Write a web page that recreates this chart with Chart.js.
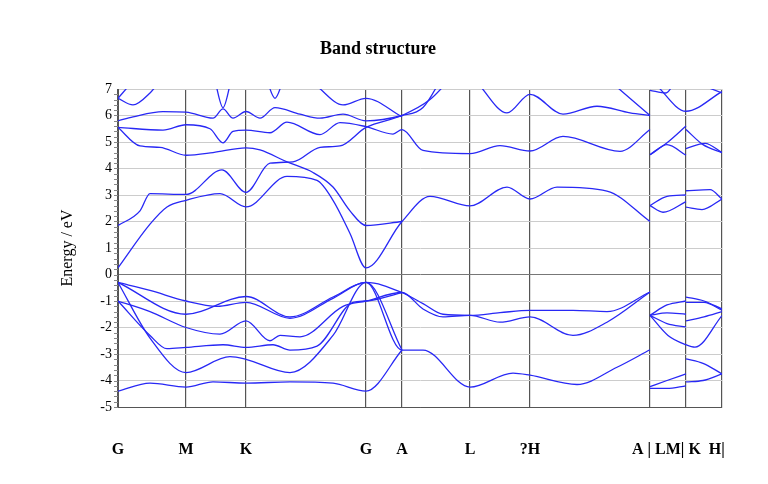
<!DOCTYPE html>
<html>
<head>
<meta charset="utf-8">
<script src="https://cdn.jsdelivr.net/npm/chart.js@4"></script>
<style>
  body { margin: 0; background: #fff; }
</style>
</head>
<body>
<canvas id="bands" width="768" height="484"></canvas>
<script>
// k-path positions of the high symmetry points
const kPoints = [0, 68, 128, 248, 284, 352, 412, 532, 568, 604];
const kLabels = ["G", "M", "K", "G", "A", "L", "?H"];
const kLabelPos = [0, 68, 128, 248, 284, 352, 412];
const tailLabel = "A | LM| K  H|";

// bands as [k, energy] pairs
const v1 = [[0,-0.3],[32,-0.6],[68,-1.0],[99,-1.2],[128,-1.05],[172,-1.65],[215,-0.9],[248,-0.3],[284,-0.68],[305,-1.1],[325,-1.5],[352,-1.54],[382,-1.44],[412,-1.35],[455,-1.35],[489,-1.4],[532,-0.66]];
const v2 = [[0,-0.3],[68,-1.5],[128,-0.83],[172,-1.6],[215,-0.85],[248,-0.3],[284,-2.85],[305,-2.85],[352,-4.25],[395,-3.72],[412,-3.8],[459,-4.15],[499,-3.5],[532,-2.84]];
const v3 = [[0,-1.0],[32,-1.4],[68,-2.0],[102,-2.25],[128,-1.75],[152,-2.5],[162,-2.3],[182,-2.35],[225,-1.2],[248,-1.0],[284,-0.68],[305,-1.3],[325,-1.6],[352,-1.54],[382,-1.8],[412,-1.6],[455,-2.3],[489,-1.8],[532,-0.66]];
const v4 = [[0,-1.0],[32,-2.3],[49,-2.8],[68,-2.75],[105,-2.65],[128,-2.75],[155,-2.65],[172,-2.85],[199,-2.7],[235,-1.05],[248,-1.0],[284,-0.68]];
const v5 = [[0,-0.3],[32,-2.4],[68,-3.7],[112,-3.1],[128,-3.2],[172,-3.7],[215,-2.3],[248,-0.3],[284,-2.85]];
const v6 = [[0,-4.4],[32,-4.1],[68,-4.25],[95,-4.05],[128,-4.1],[172,-4.05],[215,-4.1],[248,-4.4],[284,-2.85]];

const c1 = [[0,0.25],[32,1.9],[49,2.55],[68,2.8],[102,3.05],[128,2.55],[169,3.7],[199,3.55],[215,2.8],[232,1.55],[248,0.25],[284,2.0],[312,2.95],[352,2.59],[389,3.3],[412,2.85],[439,3.3],[489,3.15],[532,2.0]];
const c2 = [[0,1.85],[22,2.4],[32,3.05],[68,3.02],[104,3.95],[128,3.1],[152,4.2],[175,4.25],[202,4.8],[222,4.85],[248,5.55],[284,6.0],[312,6.6],[335,7.5]];
const c3 = [[0,5.55],[22,4.85],[42,4.8],[68,4.5],[95,4.6],[128,4.78],[142,4.7],[169,4.25],[195,3.85],[215,3.3],[232,2.4],[248,1.85],[284,2.0]];
const c4 = [[0,5.55],[45,5.45],[68,5.65],[92,5.5],[105,4.97],[115,5.4],[128,5.45],[152,5.35],[169,5.75],[202,5.28],[222,5.73],[248,5.58],[275,5.3],[284,5.47],[305,4.68],[352,4.56],[382,4.86],[412,4.66],[445,5.21],[502,4.65],[532,5.47]];
const c5 = [[0,5.8],[15,5.95],[45,6.15],[68,6.13],[95,5.9],[105,6.25],[115,5.9],[128,6.15],[142,5.9],[157,6.3],[182,6.05],[202,5.9],[225,6.05],[248,5.8],[284,6.0],[305,6.3],[325,7.5]];
const c6 = [[0,6.65],[15,6.4],[32,6.85],[42,7.3]];
const c7 = [[0,6.65],[15,7.3]];
const c8 = [[97,7.3],[105,6.3],[113,7.3]];
const c9 = [[149,7.3],[157,6.65],[165,7.3]];
const c10 = [[199,7.1],[225,6.4],[248,6.65],[284,5.95]];
const c11 = [[360,7.2],[389,6.1],[412,6.8],[445,6.05],[479,6.35],[512,6.1],[532,6.0]];
const c12 = [[495,7.2],[532,6.0]];

// A -> L and M -> K pieces
const t1 = [[532,-1.54],[549,-1.15],[568,-1.0]];
const t2 = [[532,-1.54],[549,-1.45],[568,-1.5]];
const t3 = [[532,-1.54],[549,-1.85],[568,-1.98]];
const t4 = [[532,-1.54],[550,-2.3],[568,-2.65],[577,-2.74],[604,-1.55]];
const t5 = [[532,-4.23],[549,-4.0],[568,-3.75]];
const t6 = [[532,-4.3],[549,-4.3],[568,-4.2]];
const t7 = [[532,2.6],[549,2.95],[568,3.0]];
const t8 = [[532,2.6],[545,2.35],[568,2.75]];
const t9 = [[532,4.52],[549,4.9],[568,4.5]];
const t10 = [[532,4.52],[550,5.0],[568,5.6]];
const t11 = [[537,7.2],[568,6.16],[604,6.9]];
const t12 = [[532,6.95],[548,6.85],[556,7.2]];
const t13 = [[580,7.2],[604,6.85]];
const m1 = [[568,-0.85],[586,-1.0],[604,-1.3]];
const m2 = [[568,-1.05],[586,-1.05],[604,-1.35]];
const m3 = [[568,-1.75],[586,-1.6],[604,-1.4]];
const m4 = [[568,-3.18],[585,-3.35],[604,-3.75]];
const m5 = [[568,-4.05],[585,-4.0],[604,-3.75]];
const m6 = [[568,3.16],[592,3.2],[604,2.85]];
const m7 = [[568,2.54],[584,2.45],[604,2.85]];
const m8 = [[568,5.47],[585,4.9],[604,4.6]];
const m9 = [[568,4.75],[587,4.95],[604,4.6]];

const allBands = [v1, v2, v3, v4, v5, v6, c1, c2, c3, c4, c5, c6, c7, c8, c9, c10, c11, c12,
  t1, t2, t3, t4, t5, t6, t7, t8, t9, t10, t11, t12, t13, m1, m2, m3, m4, m5, m6, m7, m8, m9];

// labels, title and minor ticks
const decor = {
  id: "decor",
  afterDraw(chart) {
    const ctx = chart.ctx;
    const xs = chart.scales.x;
    const ys = chart.scales.y;
    ctx.save();
    ctx.fillStyle = "#000";
    ctx.font = "bold 18px 'Liberation Serif'";
    ctx.textAlign = "center";
    ctx.fillText("Band structure", 378, 54);
    ctx.font = "bold 16px 'Liberation Serif'";
    kLabels.forEach((l, i) => ctx.fillText(l, xs.getPixelForValue(kLabelPos[i]), 454));
    ctx.textAlign = "left";
    ctx.fillText(tailLabel, 632, 454);
    ctx.font = "16px 'Liberation Serif'";
    ctx.translate(72, ys.getPixelForValue(1));
    ctx.rotate(-Math.PI / 2);
    ctx.textAlign = "center";
    ctx.fillText("Energy / eV", 0, 0);
    ctx.restore();
    ctx.save();
    ctx.strokeStyle = "#888";
    ctx.lineWidth = 1;
    for (let e = -5; e <= 7; e += 0.2) {
      const y = Math.round(ys.getPixelForValue(e)) + 0.5;
      ctx.beginPath();
      ctx.moveTo(xs.left - 4, y);
      ctx.lineTo(xs.left, y);
      ctx.stroke();
    }
    ctx.restore();
  },
};

new Chart(document.getElementById("bands"), {
  type: "line",
  data: {
    datasets: allBands.map((b) => ({
      data: b.map((p) => ({ x: p[0], y: p[1] })),
      borderColor: "rgb(40,40,245)",
      borderWidth: 1.3,
      pointRadius: 0,
      cubicInterpolationMode: "monotone",
      fill: false,
    })),
  },
  plugins: [decor],
  options: {
    responsive: false,
    animation: false,
    layout: { padding: { left: 80, right: 46, top: 89, bottom: 77 } },
    plugins: { legend: { display: false }, tooltip: { enabled: false } },
    scales: {
      x: {
        type: "linear",
        min: 0,
        max: 604,
        afterBuildTicks: (s) => { s.ticks = kPoints.map((v) => ({ value: v })); },
        afterFit: (s) => { s.height = 0; },
        ticks: { display: false },
        grid: { color: "#555", lineWidth: 1.2, drawTicks: false },
        border: { color: "#555" },
      },
      y: {
        min: -5,
        max: 7,
        afterFit: (s) => { s.width = 38; },
        ticks: {
          stepSize: 1,
          color: "#000",
          font: { family: "Liberation Serif", size: 14 },
          padding: 6,
        },
        grid: {
          color: (c) => (c.tick.value === 0 ? "#777" : "#ccc"),
          lineWidth: 1,
          drawTicks: false,
        },
        border: { color: "#555" },
      },
    },
  },
});
</script>
</body>
</html>
